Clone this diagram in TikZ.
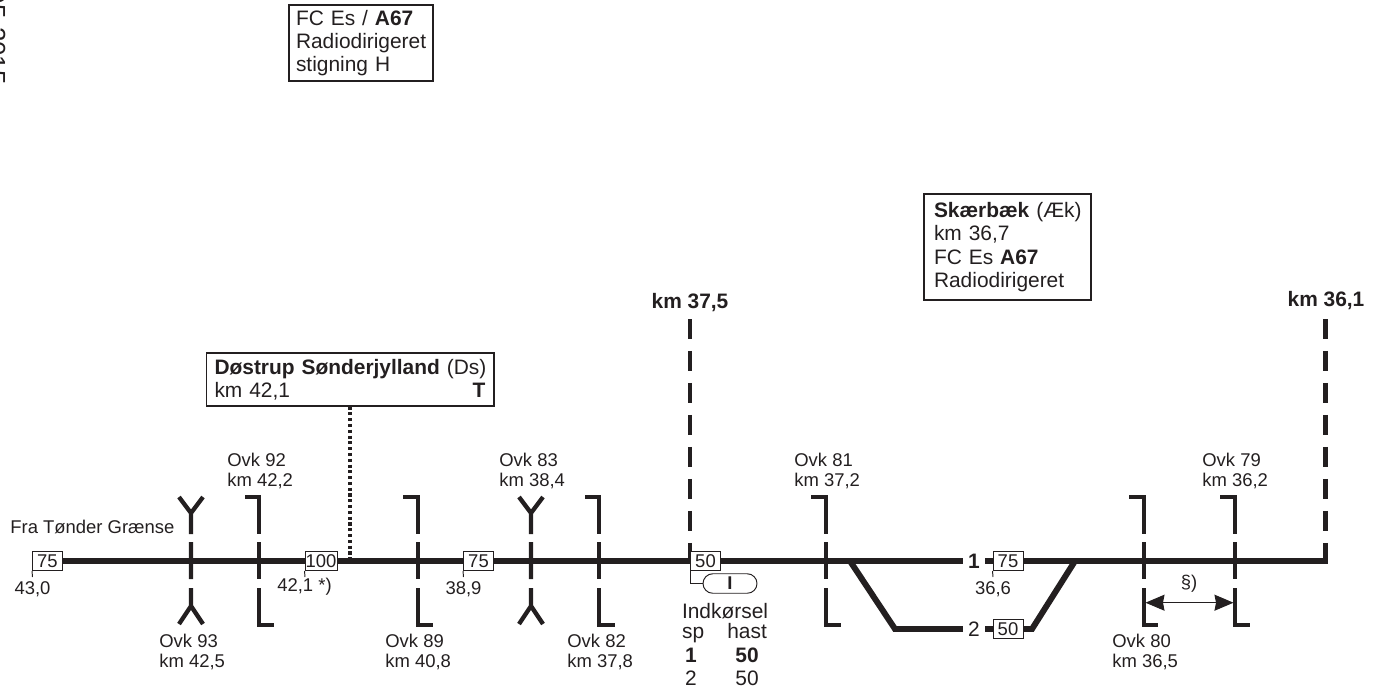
\documentclass[tikz,border=0pt]{standalone}
\usepackage{fontspec}
\setmainfont{Liberation Sans}
\usetikzlibrary{positioning,arrows.meta,shapes.misc}
\definecolor{ink}{RGB}{35,31,32}
\newcommand{\fsmall}{\fontsize{10.5}{11.9}\selectfont}
\newcommand{\fbig}{\fontsize{11.9}{13.3}\selectfont}

\begin{document}
\begin{tikzpicture}[x=.02cm,y=-.02cm,color=ink,
  track/.style={line width=3.4pt,line join=miter},
  signal/.style={line width=2.45pt},
  kmline/.style={line width=2.6pt,dash pattern=on .4cm off .24cm},
  tickline/.style={line width=.55pt},
  spbox/.style={draw,fill=white,line width=.55pt,minimum width=.6cm,minimum height=.38cm,inner sep=0,font=\fsmall},
  lbl/.style={align=left,anchor=west,inner sep=0,font=\fsmall},
  lblbig/.style={anchor=base,inner sep=0,font=\fbig},
  trackno/.style={inner xsep=.1cm,inner ysep=0,font=\fbig},
  infobox/.style={draw,line width=.6pt,align=left,font=\fbig,inner ysep=0}]
  \useasboundingbox (0,0) rectangle (1377,690);

  % info boxes
  \node[rotate=-90,anchor=base east,inner sep=0,font=\fontsize{14.7}{16}\selectfont] (date) at (-12.6,85) {05-2015};
  \node[infobox,minimum width=2.88cm,minimum height=1.52cm,text width=2.6cm,inner xsep=.14cm] (fces) at (361,43)
    {FC Es / \textbf{A67}\\Radiodirigeret\\stigning H};
  \node[infobox,minimum width=3.34cm,minimum height=2.12cm,text width=2.94cm,inner xsep=.2cm] (skaerbaek) at (1007.5,247)
    {\mbox{\textbf{Skærbæk} (Æk)}\\km 36,7\\FC Es \textbf{A67}\\Radiodirigeret};
  \node[infobox,minimum width=5.76cm,minimum height=1.06cm,text width=5.42cm,inner xsep=.17cm] (dostrup) at (350,379.5)
    {\mbox{\textbf{Døstrup Sønderjylland} (Ds)}\\km 42,1\hfill\textbf{T}};
  \node[lblbig,anchor=center,font=\fbig\bfseries] (km375) at (690,303) {km 37,5};
  \node[lblbig,anchor=center,font=\fbig\bfseries] (km361) at (1326,301) {km 36,1};

  % speed boxes and track numbers
  \node[spbox] (sp75a) at (47.5,561) {75};
  \node[spbox,minimum width=.64cm] (sp100) at (321,561) {100};
  \node[spbox] (sp75b) at (478.5,561) {75};
  \node[spbox] (sp50a) at (705.5,561) {50};
  \node[spbox] (sp75c) at (1008,561) {75};
  \node[spbox] (sp50b) at (1008,629) {50};
  \node[trackno,font=\fbig\bfseries] (trk1) at (974,561) {1};
  \node[trackno] (trk2) at (974,629) {2};

  % tracks
  \coordinate (kmend) at (1327.5,561);
  \coordinate (swa) at (850,561);
  \coordinate (swb) at (895,629);
  \coordinate (swc) at (1032,629);
  \coordinate (swd) at (1075,561);
  \draw[track] (sp75a) -- (sp100);
  \draw[track] (sp100) -- (sp75b);
  \draw[track] (sp75b) -- (sp50a);
  \draw[track] (sp50a) -- (trk1);
  \draw[track] (trk1) -- (sp75c);
  \draw[track] (sp75c) -- (kmend);
  \draw[track] (swa) -- (swb) -- (trk2);
  \draw[track] (trk2) -- (sp50b);
  \draw[track] (sp50b) -- (swc) -- (swd);

  % km limits
  \draw[kmline] (690,319) -- (690,563);
  \draw[kmline] (1325.5,319) -- (1325.5,563);
  \node[spbox] at (sp50a) {50};
  \draw[dash pattern=on 1.8pt off 1.5pt,line width=1.9pt] (dostrup.south) -- (350,558);

  % signals
  \draw[signal] (179,497) -- (191,513) -- (203,497) (191,513) -- (191,534) (191,542) -- (191,579) (191,588) -- (191,606) (179,624) -- (191,606) -- (203,624);
  \draw[signal] (245,497) -| (259,534) (259,542) -- (259,579) (259,588) |- (274,625);
  \draw[signal] (403,497) -| (418,534) (418,542) -- (418,579) (418,588) |- (433,625);
  \draw[signal] (519,497) -- (531,513) -- (543,497) (531,513) -- (531,534) (531,542) -- (531,579) (531,588) -- (531,606) (519,624) -- (531,606) -- (543,624);
  \draw[signal] (585,497) -| (599,534) (599,542) -- (599,579) (599,588) |- (615,625);
  \draw[signal] (811,497) -| (826,534) (826,542) -- (826,579) (826,588) |- (841,625);
  \draw[signal] (1129,497) -| (1144,534) (1144,542) -- (1144,579) (1144,588) |- (1158,625);
  \draw[signal] (1220,497) -| (1235,534) (1235,542) -- (1235,579) (1235,588) |- (1250,625);

  % ticks
  \coordinate (tick75a) at (32.5,577);
  \coordinate (tick100) at (305,577);
  \coordinate (tick75b) at (463.5,577);
  \coordinate (tick75c) at (993,577);
  \draw[tickline] (sp75a.south west) -- (tick75a);
  \draw[tickline] (sp100.south west) -- (tick100);
  \draw[tickline] (sp75b.south west) -- (tick75b);
  \draw[tickline] (sp75c.south west) -- (tick75c);

  % entry signal
  \node[draw,rounded rectangle,line width=.55pt,minimum width=1.08cm,minimum height=.39cm,inner sep=0,font=\fsmall\bfseries] (pill) at (730,583.5) {I};
  \draw[tickline] (sp50a.south west) |- (pill.west);
  \node[lblbig,anchor=base west] (indk) at (681.7,618) {Indkørsel};
  \node[lblbig,anchor=base west] (sp) at (681.7,638) {sp};
  \node[lblbig,anchor=base west] (hast) at (727,638) {hast};
  \node[lblbig,font=\fbig\bfseries] (spa) at (691,662) {1};
  \node[lblbig,font=\fbig\bfseries] (hasta) at (747,662) {50};
  \node[lblbig] (spb) at (691,685) {2};
  \node[lblbig] (hastb) at (747,685) {50};

  % labels
  \node[lbl] (fra) at (10,527) {Fra Tønder Grænse};
  \node[lbl] (ovk92) at (227,471) {Ovk 92\\km 42,2};
  \node[lbl] (ovk93) at (159,652) {Ovk 93\\km 42,5};
  \node[lbl] (ovk89) at (385,652) {Ovk 89\\km 40,8};
  \node[lbl] (ovk83) at (499,471) {Ovk 83\\km 38,4};
  \node[lbl] (ovk82) at (567,652) {Ovk 82\\km 37,8};
  \node[lbl] (ovk81) at (794,471) {Ovk 81\\km 37,2};
  \node[lbl] (ovk80) at (1112,652) {Ovk 80\\km 36,5};
  \node[lbl] (ovk79) at (1202,471) {Ovk 79\\km 36,2};
  \node[lbl,anchor=center] (k430) at (32.5,589) {43,0};
  \node[lbl,anchor=center] (k421) at (304.5,587) {42,1 *)};
  \node[lbl,anchor=center] (k389) at (463.5,589) {38,9};
  \node[lbl,anchor=center] (k366) at (993,589) {36,6};

  % section arrow
  \coordinate (arra) at (1145.5,602.7);
  \coordinate (arrb) at (1233.5,602.7);
  \draw[{Stealth[length=.38cm,width=.32cm,inset=.03cm]}-{Stealth[length=.38cm,width=.32cm,inset=.03cm]},line width=.6pt] (arra) -- (arrb);
  \node[lbl,anchor=center] (para) at (1189,584) {§)};
\end{tikzpicture}
\end{document}
